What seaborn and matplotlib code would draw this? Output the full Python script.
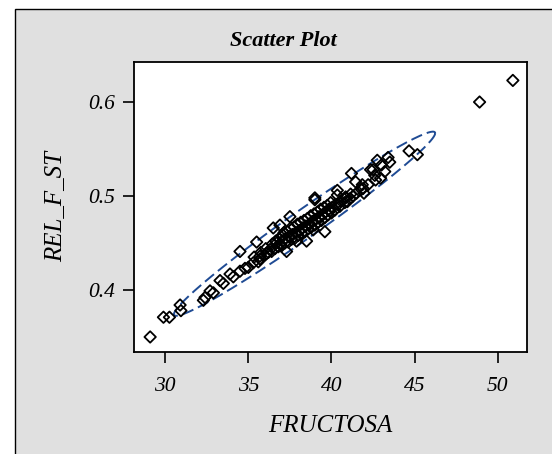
import numpy as np
import pandas as pd
import matplotlib
matplotlib.use("Agg")
import matplotlib.pyplot as plt
from matplotlib.patches import Rectangle
import seaborn as sns

# ---- data ----
fructosa = [
    29.1, 29.9, 30.26, 30.9, 30.95, 32.4, 32.7, 32.9, 33.3, 33.5, 33.9, 34.1,
    34.5, 34.5, 34.8, 35.0, 35.5, 35.6, 36.1, 36.5, 36.7, 36.9, 37.5, 39.0,
    39.0, 40.35, 40.35, 40.85, 41.2, 41.45, 41.9, 41.95, 42.35, 42.5, 42.65,
    42.95, 43.0, 43.4, 43.5, 42.75, 44.66, 45.16, 48.9, 50.9,
    35.3, 35.35, 35.7, 35.75, 36.0, 36.05, 36.2, 36.4, 36.45, 36.6, 36.65,
    36.8, 36.85, 37.0, 37.05, 37.1, 37.2, 37.25, 37.15, 37.4, 37.45, 37.35,
    37.6, 37.65, 37.55, 37.8, 37.85, 37.75, 38.0, 38.05, 37.95, 38.2, 38.25,
    38.15, 38.4, 38.45, 38.35, 38.6, 38.65, 38.55, 38.8, 38.85, 38.75, 39.0,
    39.05, 38.95, 39.2, 39.25, 39.15, 39.4, 39.45, 39.35, 39.6, 39.65, 39.55,
    39.8, 39.85, 39.75, 40.0, 40.05, 39.95, 40.2, 40.25, 40.5, 40.55, 40.8,
    40.85, 41.1, 41.15, 41.5, 41.8, 41.85, 42.2, 42.6, 43.2, 39.6, 38.5,
    37.3, 32.3, 35.7,
    36.3, 36.9, 37.5, 38.1, 38.7, 39.3, 39.9, 40.4, 40.95, 41.3, 37.9, 38.9,
]
rel_f_st = [
    0.350, 0.371, 0.371, 0.384, 0.378, 0.392, 0.399, 0.397, 0.410, 0.407, 0.417, 0.414,
    0.441, 0.420, 0.423, 0.424, 0.451, 0.430, 0.439, 0.466, 0.450, 0.469, 0.478, 0.498,
    0.496, 0.506, 0.501, 0.499, 0.524, 0.515, 0.508, 0.503, 0.528, 0.528, 0.517,
    0.519, 0.533, 0.541, 0.536, 0.538, 0.548, 0.544, 0.600, 0.623,
    0.429, 0.435, 0.433, 0.440, 0.437, 0.444, 0.440, 0.441, 0.449, 0.444, 0.452,
    0.446, 0.455, 0.447, 0.452, 0.458, 0.450, 0.455, 0.461, 0.451, 0.457, 0.462,
    0.454, 0.459, 0.466, 0.455, 0.461, 0.467, 0.458, 0.463, 0.470, 0.460, 0.466,
    0.472, 0.462, 0.468, 0.474, 0.465, 0.470, 0.476, 0.467, 0.473, 0.479, 0.469,
    0.475, 0.481, 0.472, 0.478, 0.483, 0.474, 0.480, 0.486, 0.477, 0.483, 0.488,
    0.480, 0.486, 0.490, 0.482, 0.488, 0.493, 0.485, 0.491, 0.489, 0.495, 0.493,
    0.498, 0.497, 0.502, 0.503, 0.507, 0.512, 0.512, 0.522, 0.526, 0.462, 0.452,
    0.441, 0.389, 0.436,
    0.443, 0.449, 0.456, 0.463, 0.470, 0.477, 0.484, 0.491, 0.494, 0.500, 0.452, 0.464,
]

# prediction ellipse (centre, half-ranges, correlation)
ellipse_center = (38.38, 0.4705)
ellipse_x_half = 7.85
ellipse_y_half = 0.098
ellipse_corr = 0.9827

x_ticks = [30, 35, 40, 45, 50]
y_ticks = [0.4, 0.5, 0.6]
title = "Scatter Plot"
x_label = "FRUCTOSA"
y_label = "REL_F_ST"

# ---- figure ----
sns.set_theme(style="white")
plt.rcParams["font.family"] = ["Liberation Serif", "DejaVu Serif"]
plt.rcParams["text.color"] = "black"
plt.rcParams["axes.labelcolor"] = "black"
plt.rcParams["xtick.color"] = "black"
plt.rcParams["ytick.color"] = "black"

fig = plt.figure(figsize=(5.52, 4.54), dpi=100)
fig.patch.set_facecolor("white")
bg = Rectangle((15 / 552, -0.1), 1.2, 0.1 + 1 - 9 / 454,
               transform=fig.transFigure, facecolor="#E0E0E0",
               edgecolor="black", linewidth=1.0, zorder=-10)
fig.patches.append(bg)

ax = fig.add_axes([134 / 552, 1 - 352 / 454, (527 - 134) / 552, (352 - 62) / 454])
ax.set_zorder(5)
ax.set_facecolor("white")

df = pd.DataFrame({"FRUCTOSA": fructosa, "REL_F_ST": rel_f_st})

t = np.linspace(0, 2 * np.pi, 400)
cx, cy = ellipse_center
ex = cx + ellipse_x_half * np.cos(t)
ey = cy + ellipse_y_half * (ellipse_corr * np.cos(t)
                            - np.sqrt(1 - ellipse_corr ** 2) * np.sin(t))
edf = pd.DataFrame({"x": ex, "y": ey})
sns.lineplot(data=edf, x="x", y="y", sort=False, estimator=None, ax=ax,
             color="#1f4b94", linewidth=1.4)
ax.lines[-1].set_dashes([6, 2.6])

sns.scatterplot(data=df, x="FRUCTOSA", y="REL_F_ST", ax=ax, marker="D", s=34,
                facecolor="none", edgecolor="black", linewidth=1.3, zorder=3)

ax.set_xlim(28.13, 51.75)
ax.set_ylim(0.334, 0.6426)
ax.set_xticks(x_ticks)
ax.set_xticklabels([str(v) for v in x_ticks])
ax.set_yticks(y_ticks)
ax.set_yticklabels([f"{v:.1f}" for v in y_ticks])
ax.tick_params(axis="both", direction="out", length=8, width=1.2, color="black",
               labelsize=15.5, pad=6, left=True, bottom=True, labelcolor="black")
ax.tick_params(axis="x", pad=10)
for lab in ax.get_xticklabels() + ax.get_yticklabels():
    lab.set_fontstyle("italic")
for sp in ax.spines.values():
    sp.set_visible(True)
    sp.set_color("black")
    sp.set_linewidth(1.3)

ax.set_xlabel(x_label, fontsize=18, fontstyle="italic", labelpad=14, color="black")
ax.set_ylabel(y_label, fontsize=18, fontstyle="italic", labelpad=15, color="black")
fig.text(283 / 552, 1 - 41 / 454, title, ha="center", va="center",
         fontsize=16, fontweight="bold", fontstyle="italic", color="black")

fig.savefig("out.png", dpi=100)
